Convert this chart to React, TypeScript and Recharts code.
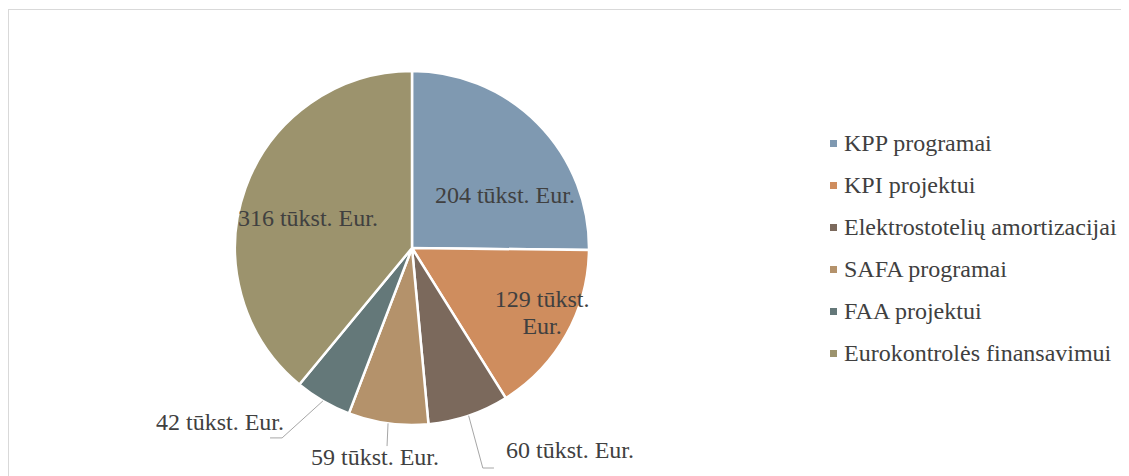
import React from 'react';
import { PieChart, Pie, Cell, Legend } from 'recharts';

const categories = [
  'KPP programai',
  'KPI projektui',
  'Elektrostotelių amortizacijai',
  'SAFA programai',
  'FAA projektui',
  'Eurokontrolės finansavimui',
];
const values = [204, 129, 60, 59, 42, 316];
const labelTexts = [
  ['204 tūkst. Eur.'],
  ['129 tūkst.', 'Eur.'],
  ['60 tūkst. Eur.'],
  ['59 tūkst. Eur.'],
  ['42 tūkst. Eur.'],
  ['316 tūkst. Eur.'],
];
const colors = ['#7f99b1', '#cf8d5e', '#7b695c', '#b4926b', '#647879', '#9c936d'];

const data = categories.map((name, i) => ({ name, value: values[i] }));

const FONT = '"Liberation Serif", "Times New Roman", serif';
const TEXT_COLOR = '#404040';
const LINE_COLOR = '#a6a6a6';
const FONT_SIZE = 24;

// label placement relative to pie center, in units of the outer radius
type Place = {
  tx: number; ty: number; anchor: 'start' | 'middle' | 'end';
  elbow?: [number, number]; end?: [number, number];
};
const placements: Place[] = [
  { tx: 0.525, ty: -0.3, anchor: 'middle' },
  { tx: 0.735, ty: 0.367, anchor: 'middle' },
  { tx: 0.531, ty: 1.141, anchor: 'start', elbow: [0.4, 1.243], end: [0.463, 1.243] },
  { tx: -0.209, ty: 1.181, anchor: 'middle', end: [-0.141, 1.119] },
  { tx: -0.723, ty: 0.983, anchor: 'end', elbow: [-0.734, 1.073], end: [-0.802, 1.073] },
  { tx: -0.588, ty: -0.17, anchor: 'middle' },
];

const RAD = Math.PI / 180;

const renderLabel = (props: any) => {
  const { cx, cy, midAngle, outerRadius, index } = props;
  const p = placements[index];
  const lines = labelTexts[index];
  const r = outerRadius;
  const tx = cx + p.tx * r;
  const ty = cy + p.ty * r;
  const lh = 27;
  let path: string | null = null;
  if (p.end) {
    const sx = cx + r * Math.cos(-midAngle * RAD);
    const sy = cy + r * Math.sin(-midAngle * RAD);
    let d = `M${sx},${sy}`;
    if (p.elbow) d += ` L${cx + p.elbow[0] * r},${cy + p.elbow[1] * r}`;
    d += ` L${cx + p.end[0] * r},${cy + p.end[1] * r}`;
    path = d;
  }
  return (
    <g key={`lbl-${index}`}>
      {path && <path d={path} stroke={LINE_COLOR} strokeWidth={1} fill="none" />}
      <text
        x={tx}
        y={ty - ((lines.length - 1) * lh) / 2}
        textAnchor={p.anchor}
        dominantBaseline="central"
        fill={TEXT_COLOR}
        style={{ fontFamily: FONT, fontSize: FONT_SIZE }}
      >
        {lines.map((l, i) => (
          <tspan key={i} x={tx} dy={i === 0 ? 0 : lh}>
            {l}
          </tspan>
        ))}
      </text>
    </g>
  );
};

const renderLegend = () => (
  <div style={{ fontFamily: FONT, fontSize: FONT_SIZE, color: TEXT_COLOR, lineHeight: 1 }}>
    {categories.map((name, i) => (
      <div key={name} style={{ display: 'flex', alignItems: 'center', height: 42 }}>
        <span
          style={{
            display: 'inline-block',
            width: 7,
            height: 7,
            background: colors[i],
            marginRight: 7,
            flex: 'none',
          }}
        />
        <span style={{ whiteSpace: 'nowrap' }}>{name}</span>
      </div>
    ))}
  </div>
);

export default function App() {
  return (
    <div style={{ position: 'relative', width: 1121, height: 468, overflow: 'hidden' }}>
      <div
        style={{
          position: 'absolute',
          left: 0,
          top: 1,
          width: 1140,
          height: 520,
          border: '1px solid #d9d9d9',
          boxSizing: 'border-box',
        }}
      />
      <div style={{ position: 'absolute', left: 0, top: 0 }}>
        <PieChart width={1121} height={468} margin={{ top: 0, right: 0, bottom: 0, left: 0 }}>
          <Pie
            data={data}
            dataKey="value"
            nameKey="name"
            cx={404}
            cy={240}
            outerRadius={177}
            startAngle={90}
            endAngle={-270}
            stroke="#ffffff"
            strokeWidth={2.5}
            label={renderLabel}
            labelLine={false}
            isAnimationActive={false}
          >
            {data.map((d, i) => (
              <Cell key={d.name} fill={colors[i]} />
            ))}
          </Pie>
          <Legend
            content={renderLegend}
            layout="vertical"
            wrapperStyle={{ position: 'absolute', left: 822, top: 114, width: 300 }}
          />
        </PieChart>
      </div>
    </div>
  );
}
